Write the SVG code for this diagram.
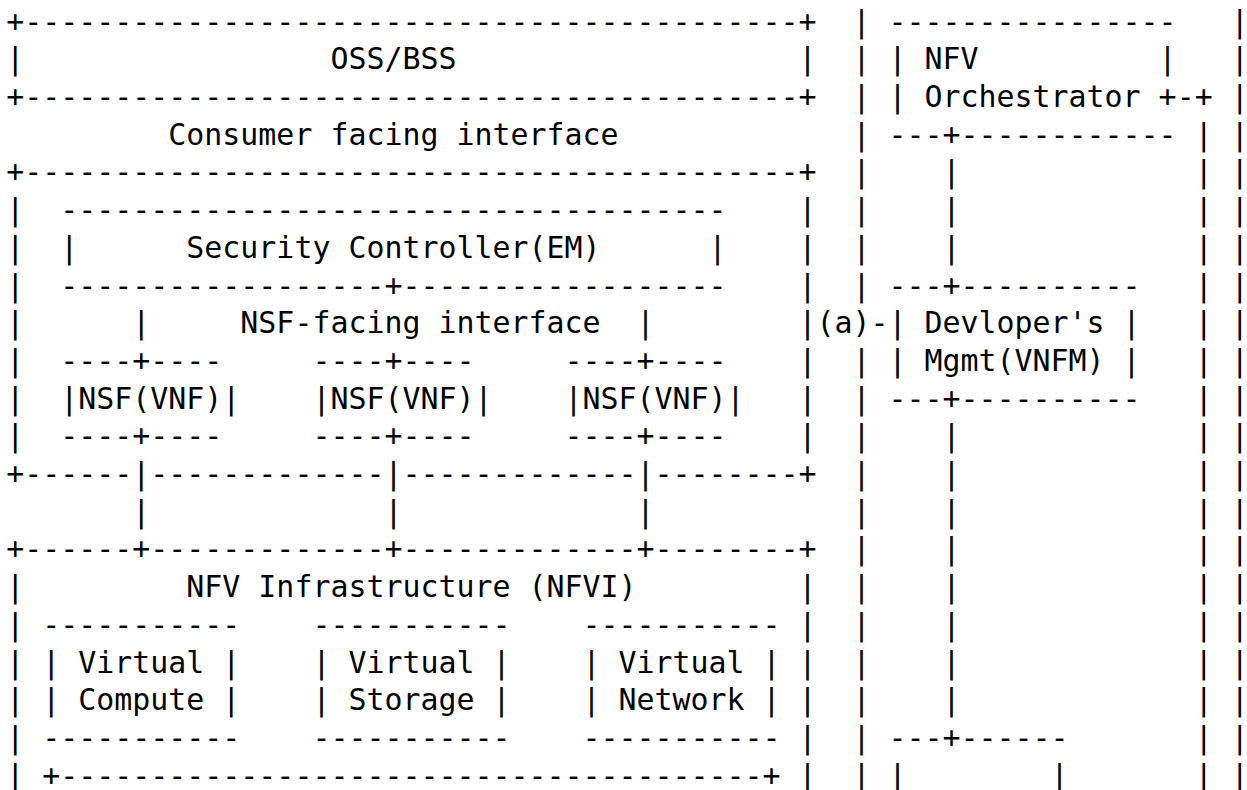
<svg xmlns="http://www.w3.org/2000/svg" width="1247" height="790" viewBox="0 0 1247 790">
<style>
.t{font-family:"DejaVu Sans Mono","Liberation Mono",monospace;font-size:29.92px;fill:#000;white-space:pre}
</style>
<rect width="1247" height="790" fill="#fff"/>
<g id="ascii-diagram">
<text class="t" xml:space="preserve" x="6.3" y="31.6">+-------------------------------------------+  | ----------------   |</text>
<text class="t" xml:space="preserve" x="6.3" y="69.3">|                 OSS/BSS                   |  | | NFV          |   |</text>
<text class="t" xml:space="preserve" x="6.3" y="107.0">+-------------------------------------------+  | | Orchestrator +-+ |</text>
<text class="t" xml:space="preserve" x="6.3" y="144.7">         Consumer facing interface             | ---+------------ | |</text>
<text class="t" xml:space="preserve" x="6.3" y="182.4">+-------------------------------------------+  |    |             | |</text>
<text class="t" xml:space="preserve" x="6.3" y="220.1">|  -------------------------------------    |  |    |             | |</text>
<text class="t" xml:space="preserve" x="6.3" y="257.8">|  |      Security Controller(EM)      |    |  |    |             | |</text>
<text class="t" xml:space="preserve" x="6.3" y="295.5">|  ------------------+------------------    |  | ---+----------   | |</text>
<text class="t" xml:space="preserve" x="6.3" y="333.2">|      |     NSF-facing interface  |        |(a)-| Devloper's |   | |</text>
<text class="t" xml:space="preserve" x="6.3" y="370.9">|  ----+----     ----+----     ----+----    |  | | Mgmt(VNFM) |   | |</text>
<text class="t" xml:space="preserve" x="6.3" y="408.6">|  |NSF(VNF)|    |NSF(VNF)|    |NSF(VNF)|   |  | ---+----------   | |</text>
<text class="t" xml:space="preserve" x="6.3" y="446.3">|  ----+----     ----+----     ----+----    |  |    |             | |</text>
<text class="t" xml:space="preserve" x="6.3" y="484.0">+------|-------------|-------------|--------+  |    |             | |</text>
<text class="t" xml:space="preserve" x="6.3" y="521.7">       |             |             |           |    |             | |</text>
<text class="t" xml:space="preserve" x="6.3" y="559.4">+------+-------------+-------------+--------+  |    |             | |</text>
<text class="t" xml:space="preserve" x="6.3" y="597.1">|         NFV Infrastructure (NFVI)         |  |    |             | |</text>
<text class="t" xml:space="preserve" x="6.3" y="634.8">| -----------    -----------    ----------- |  |    |             | |</text>
<text class="t" xml:space="preserve" x="6.3" y="672.5">| | Virtual |    | Virtual |    | Virtual | |  |    |             | |</text>
<text class="t" xml:space="preserve" x="6.3" y="710.2">| | Compute |    | Storage |    | Network | |  |    |             | |</text>
<text class="t" xml:space="preserve" x="6.3" y="747.9">| -----------    -----------    ----------- |  | ---+------       | |</text>
<text class="t" xml:space="preserve" x="6.3" y="785.6">| +---------------------------------------+ |  | |        |       | |</text>
</g>
</svg>
